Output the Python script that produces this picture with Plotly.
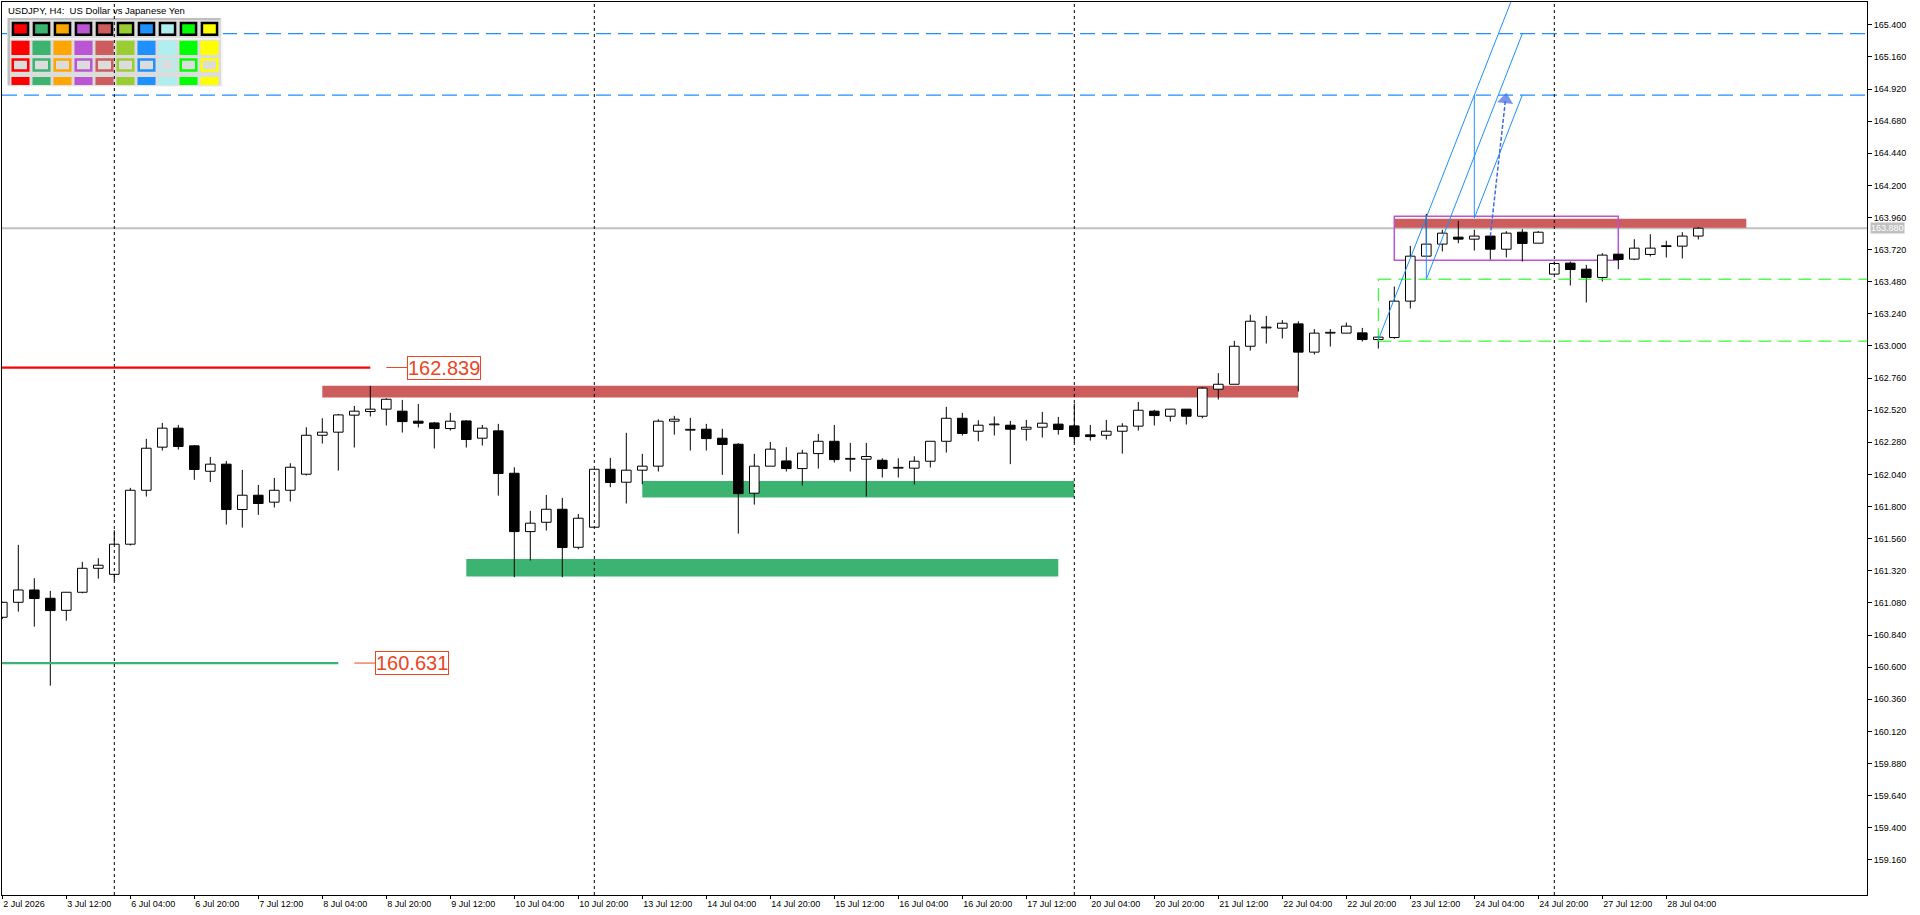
import plotly.graph_objects as go
import numpy as np
from datetime import datetime, timedelta

# ---------------- data ----------------
opens = [160.973, 161.085, 161.177, 161.115, 161.025, 161.160, 161.339, 161.294, 161.519, 161.922,
         162.244, 162.386, 162.254, 162.064, 162.117, 161.778, 161.885, 161.833, 161.922, 162.042,
         162.333, 162.356, 162.483, 162.510, 162.528, 162.513, 162.438, 162.425, 162.383, 162.440,
         162.311, 162.366, 162.049, 161.613, 161.683, 161.780, 161.496, 161.646, 162.079, 161.982,
         162.072, 162.102, 162.438, 162.371, 162.378, 162.311, 162.266, 161.900, 162.102, 162.141,
         162.084, 162.196, 162.288, 162.154, 162.154, 162.146, 162.087, 162.087, 162.139, 162.288,
         162.460, 162.363, 162.411, 162.408, 162.378, 162.393, 162.416, 162.403, 162.336, 162.333,
         162.363, 162.401, 162.513, 162.475, 162.528, 162.475, 162.677, 162.714, 162.998, 163.135,
         163.133, 163.165, 162.954, 163.096, 163.096, 163.098, 163.048, 163.063, 163.335, 163.671,
         163.761, 163.813, 163.798, 163.821, 163.723, 163.850, 163.768, 163.537, 163.619, 163.574,
         163.512, 163.686, 163.649, 163.684, 163.743, 163.746, 163.821]
highs = [161.090, 161.514, 161.265, 161.170, 161.160, 161.387, 161.414, 161.623, 161.940, 162.306,
         162.425, 162.410, 162.261, 162.171, 162.141, 162.074, 161.962, 162.014, 162.124, 162.393,
         162.460, 162.493, 162.552, 162.702, 162.610, 162.597, 162.567, 162.433, 162.500, 162.445,
         162.410, 162.418, 162.094, 161.768, 161.887, 161.865, 161.745, 162.079, 162.164, 162.351,
         162.194, 162.453, 162.478, 162.463, 162.418, 162.381, 162.274, 162.194, 162.283, 162.244,
         162.224, 162.343, 162.410, 162.276, 162.276, 162.161, 162.161, 162.176, 162.288, 162.545,
         162.500, 162.445, 162.473, 162.440, 162.448, 162.508, 162.470, 162.570, 162.410, 162.448,
         162.423, 162.582, 162.523, 162.528, 162.528, 162.692, 162.797, 163.038, 163.233, 163.225,
         163.193, 163.185, 163.126, 163.126, 163.175, 163.135, 163.076, 163.444, 163.748, 163.987,
         163.868, 163.935, 163.868, 163.821, 163.858, 163.873, 163.858, 163.631, 163.631, 163.606,
         163.693, 163.686, 163.798, 163.835, 163.786, 163.850, 163.888]
lows = [160.960, 161.015, 160.903, 160.462, 160.948, 161.152, 161.262, 161.247, 161.509, 161.875,
        162.219, 162.226, 162.000, 161.984, 161.666, 161.643, 161.738, 161.793, 161.838, 162.032,
        162.271, 162.069, 162.241, 162.473, 162.406, 162.353, 162.391, 162.234, 162.368, 162.241,
        162.256, 161.882, 161.272, 161.397, 161.621, 161.272, 161.481, 161.646, 161.945, 161.823,
        161.967, 162.062, 162.338, 162.219, 162.219, 162.037, 161.598, 161.815, 162.102, 162.062,
        161.957, 162.084, 162.129, 162.062, 161.875, 162.017, 162.017, 161.965, 162.092, 162.204,
        162.331, 162.288, 162.331, 162.117, 162.293, 162.316, 162.338, 162.278, 162.293, 162.301,
        162.196, 162.368, 162.406, 162.436, 162.413, 162.460, 162.600, 162.714, 162.966, 163.018,
        163.056, 162.660, 162.936, 162.996, 163.096, 163.033, 162.981, 163.053, 163.280, 163.671,
        163.706, 163.768, 163.713, 163.646, 163.661, 163.631, 163.768, 163.537, 163.452, 163.325,
        163.482, 163.574, 163.641, 163.669, 163.661, 163.654, 163.796]
closes = [161.085, 161.177, 161.113, 161.023, 161.160, 161.339, 161.362, 161.519, 161.922, 162.236,
          162.386, 162.249, 162.077, 162.117, 161.778, 161.885, 161.823, 161.922, 162.094, 162.333,
          162.356, 162.485, 162.513, 162.528, 162.602, 162.435, 162.423, 162.383, 162.438, 162.301,
          162.386, 162.047, 161.613, 161.676, 161.780, 161.494, 161.713, 162.079, 161.980, 162.072,
          162.102, 162.438, 162.453, 162.371, 162.308, 162.264, 161.897, 162.102, 162.229, 162.084,
          162.199, 162.288, 162.151, 162.154, 162.174, 162.084, 162.087, 162.139, 162.288, 162.460,
          162.346, 162.408, 162.411, 162.378, 162.393, 162.423, 162.376, 162.323, 162.323, 162.363,
          162.401, 162.520, 162.480, 162.528, 162.475, 162.685, 162.714, 162.998, 163.185, 163.135,
          163.170, 162.954, 163.096, 163.096, 163.148, 163.048, 163.066, 163.335, 163.671, 163.761,
          163.843, 163.798, 163.821, 163.723, 163.843, 163.766, 163.850, 163.616, 163.571, 163.512,
          163.679, 163.646, 163.731, 163.731, 163.743, 163.821, 163.880]

first_bar_time = datetime(2026, 7, 2, 20, 0)

# horizontal levels with price labels
level_prices = [162.839, 160.631]
level_colors = ["#FF0000", "#3CB371"]
level_end_bar = [23, 21]
level_labels = ["162.839", "160.631"]

# supply / demand zones
zone_start = [20, 29, 40, 87]
zone_end = [81, 66, 67, 109]
zone_low = [162.615, 161.277, 161.867, 163.883]
zone_high = [162.702, 161.409, 161.992, 163.950]
zone_colors = ["#CD5C5C", "#3CB371", "#3CB371", "#CD5C5C"]

# consolidation box
box_bars = [87, 101]
box_prices = [163.641, 163.970]

# target levels (dashed blue) and range levels (dashed lime)
target_levels = [165.333, 164.874]
range_levels = [163.499, 163.036]
range_start_bar = 86

# projection lines
proj_a_x = [86, 95]
proj_a_y = [163.046, 165.788]
proj_b_x = [89, 89, 95]
proj_b_y = [163.955, 163.499, 165.333]
proj_c_x = [92, 92, 95]
proj_c_y = [164.874, 163.955, 164.874]
arrow_x = [93, 93.95]
arrow_y = [163.82, 164.84]

palette = ["#FF0000", "#3CB371", "#FFA500", "#BA55D3", "#CD5C5C",
           "#9ACD32", "#1E90FF", "#AFEEEE", "#00FF00", "#FFFF00"]

y_tick_vals = [round(v, 3) for v in np.arange(159.16, 165.401, 0.24)]

# ---------------- derived ----------------
n = len(opens)
times = []
t = first_bar_time
while len(times) < n:
    if t.weekday() < 5:
        times.append(t)
    t += timedelta(hours=4)

idx = list(range(n))
tick_idx = list(range(0, n, 4))
tick_txt = []
for k in tick_idx:
    d = times[k]
    if k == 0:
        tick_txt.append(f"{d.day} {d:%b} {d.year}")
    else:
        tick_txt.append(f"{d.day} {d:%b} {d:%H:%M}")
separators = [i for i, d in enumerate(times) if d.weekday() == 0 and d.hour == 0]
bid = closes[-1]

# ---------------- layout geometry ----------------
W, H = 1920, 915
ML, MR, MT, MB = 2, 53, 2, 20
PW, PH = W - ML - MR, H - MT - MB
X_RANGE = [-0.019, -0.019 + PW / 16.0]
Y_RANGE = [158.898, 165.570]
FONT = "Liberation Sans"
LABEL_COL = "#EE4422"

fig = go.Figure()

# candle bodies
body_base = [min(o, c) for o, c in zip(opens, closes)]
body_h = [max(abs(c - o), 0.006) for o, c in zip(opens, closes)]
body_col = ["#FFFFFF" if c >= o else "#000000" for o, c in zip(opens, closes)]
fig.add_trace(go.Bar(x=idx, y=body_h, base=body_base, width=0.6,
                     marker=dict(color=body_col, line=dict(color="#000000", width=1)),
                     hoverinfo="skip"))

# wicks (upper and lower segments)
wx, wy = [], []
for i, o, h, l, c in zip(idx, opens, highs, lows, closes):
    top, bot = max(o, c), min(o, c)
    if h > top:
        wx += [i, i, None]
        wy += [top, h, None]
    if l < bot:
        wx += [i, i, None]
        wy += [l, bot, None]
fig.add_trace(go.Scatter(x=wx, y=wy, mode="lines", line=dict(color="#000000", width=1),
                         hoverinfo="skip"))

# level lines with connectors and labels
annotations = []
for p, col, e, lab in zip(level_prices, level_colors, level_end_bar, level_labels):
    fig.add_trace(go.Scatter(x=[X_RANGE[0], e], y=[p, p], mode="lines",
                             line=dict(color=col, width=2.2), hoverinfo="skip"))
    fig.add_trace(go.Scatter(x=[e + 1.0, e + 2.3], y=[p, p], mode="lines",
                             line=dict(color=LABEL_COL, width=1), hoverinfo="skip"))
    annotations.append(dict(x=e + 2.3, y=p, xref="x", yref="y", xanchor="left", yanchor="middle",
                            text=lab, showarrow=False, bgcolor="#FFFFFF",
                            bordercolor=LABEL_COL, borderwidth=1, borderpad=0,
                            font=dict(family=FONT, size=20, color=LABEL_COL)))

# range (lime) dashed lines + vertical
for p in range_levels:
    fig.add_trace(go.Scatter(x=[range_start_bar, X_RANGE[1]], y=[p, p], mode="lines",
                             line=dict(color="#00FF00", width=1, dash="13px,7px"), hoverinfo="skip"))
fig.add_trace(go.Scatter(x=[range_start_bar, range_start_bar], y=[min(range_levels), max(range_levels)],
                         mode="lines", line=dict(color="#00FF00", width=1, dash="13px,7px"),
                         hoverinfo="skip"))

# projection lines
for px_, py_ in [(proj_a_x, proj_a_y), (proj_b_x, proj_b_y), (proj_c_x, proj_c_y)]:
    fig.add_trace(go.Scatter(x=px_, y=py_, mode="lines", line=dict(color="#1E90FF", width=1),
                             hoverinfo="skip"))
fig.add_trace(go.Scatter(x=arrow_x, y=arrow_y, mode="lines",
                         line=dict(color="#4169E1", width=1.5, dash="4px,2px"),
                         hoverinfo="skip"))
fig.add_trace(go.Scatter(x=arrow_x, y=arrow_y, mode="markers",
                         marker=dict(symbol=["circle", "triangle-up"], size=[0, 14],
                                     color="#4169E1", angleref="previous",
                                     line=dict(width=0)),
                         hoverinfo="skip"))

# ---------------- shapes ----------------
shapes = []
for x0, x1, lo, hi, col in zip(zone_start, zone_end, zone_low, zone_high, zone_colors):
    shapes.append(dict(type="rect", xref="x", yref="y", x0=x0, x1=x1, y0=lo, y1=hi,
                       fillcolor=col, line=dict(width=0), layer="below"))
shapes.append(dict(type="rect", xref="x", yref="y", x0=box_bars[0], x1=box_bars[1],
                   y0=box_prices[0], y1=box_prices[1], fillcolor="rgba(0,0,0,0)",
                   line=dict(color="#BA55D3", width=1.5), layer="below"))
for p in target_levels:
    shapes.append(dict(type="line", xref="paper", yref="y", x0=0, x1=1, y0=p, y1=p,
                       line=dict(color="#1E90FF", width=1.2, dash="15px,7px"), layer="below"))
shapes.append(dict(type="line", xref="paper", yref="y", x0=0, x1=1, y0=bid, y1=bid,
                   line=dict(color="#C0C0C0", width=2), layer="below"))

# colour panel on its own small axes (x2 = colour slot, y2 = panel pixel rows)
def xdom(px):
    return (px - ML) / PW

def ydom(py):
    return (H - MB - py) / PH

P_L, P_R, P_T, P_B = 7.3, 222.7, 17.7, 87.3
COL0, COLSTEP = 20.5, 21.0
x2_range = [(P_L - COL0) / COLSTEP, (P_R - COL0) / COLSTEP]

def cx(px):
    return (px - COL0) / COLSTEP

def prect(x0, x1, y0, y1, fill, lc=None, lw=0):
    return dict(type="rect", xref="x2", yref="y2", x0=x0, x1=x1, y0=y0, y1=y1,
                fillcolor=fill, line=dict(color=lc or fill, width=lw), layer="above")

shapes.append(prect(x2_range[0], x2_range[1], P_T, P_B, "#F4F4F4"))
shapes.append(prect(x2_range[0], cx(220.5), P_T, 85.3, "#BEBEBE"))
shapes.append(prect(cx(10.0), cx(220.5), 20.0, 85.3, "#DCDCDC"))
shapes.append(prect(cx(10.0), cx(220.0), 38.3, 39.6, "#FFFFFF"))
for j, col in enumerate(palette):
    shapes.append(prect(j - 0.36, j + 0.36, 23.0, 34.8, col, "#000000", 2.5))
    shapes.append(prect(j - 0.43, j + 0.43, 40.7, 55.0, col))
    shapes.append(prect(j - 0.37, j + 0.37, 59.5, 70.6, "#DCDCDC", col, 2.5))
    shapes.append(prect(j - 0.43, j + 0.43, 77.0, 85.0, col))

# weekly separators
for s in separators:
    shapes.append(dict(type="line", xref="x", yref="paper", x0=s, x1=s, y0=0, y1=1,
                       line=dict(color="#000000", width=1, dash="3px,3px"), layer="above"))

# dummy invisible trace so that x2/y2 subplot exists
fig.add_trace(go.Scatter(x=list(range(len(palette))), y=[50] * len(palette), xaxis="x2", yaxis="y2",
                         mode="markers", marker=dict(size=1, opacity=0), hoverinfo="skip"))

annotations.append(dict(x=0, y=1, xref="paper", yref="paper", xanchor="left", yanchor="top",
                        xshift=4, yshift=-1, showarrow=False,
                        text="USDJPY, H4:\u00a0 US Dollar vs Japanese Yen",
                        font=dict(family=FONT, size=9.5, color="#000000")))
annotations.append(dict(x=1, y=bid, xref="paper", yref="y", xanchor="left", yanchor="middle",
                        xshift=3, showarrow=False, text=f"{bid:.3f}", bgcolor="#C0C0C0",
                        borderpad=0, font=dict(family=FONT, size=9, color="#FFFFFF")))

fig.update_layout(
    width=W, height=H, margin=dict(l=ML, r=MR, t=MT, b=MB),
    paper_bgcolor="#FFFFFF", plot_bgcolor="#FFFFFF",
    showlegend=False, barmode="overlay", hovermode=False,
    shapes=shapes, annotations=annotations,
    xaxis=dict(range=X_RANGE, tickvals=tick_idx, ticktext=tick_txt, ticks="outside", ticklen=3,
               tickcolor="#000000", ticklabelposition="outside right", showgrid=False, zeroline=False,
               showline=True, mirror=True, linecolor="#000000", linewidth=1,
               tickfont=dict(family=FONT, size=9, color="#000000"), fixedrange=True),
    yaxis=dict(range=Y_RANGE, side="right", tickvals=y_tick_vals, tickformat=".3f", ticks="outside",
               ticklen=4, tickcolor="#000000", showgrid=False, zeroline=False, showline=True,
               mirror=True, linecolor="#000000", linewidth=1,
               tickfont=dict(family=FONT, size=9, color="#000000"), fixedrange=True),
    xaxis2=dict(domain=[xdom(P_L), xdom(P_R)], range=x2_range, anchor="y2", visible=False,
                fixedrange=True),
    yaxis2=dict(domain=[ydom(P_B), ydom(P_T)], range=[P_B, P_T], anchor="x2", visible=False,
                fixedrange=True),
)

fig.write_html("out.html", config={"displayModeBar": False},
               post_script="document.body.style.margin='0';document.body.style.overflow='hidden';")
